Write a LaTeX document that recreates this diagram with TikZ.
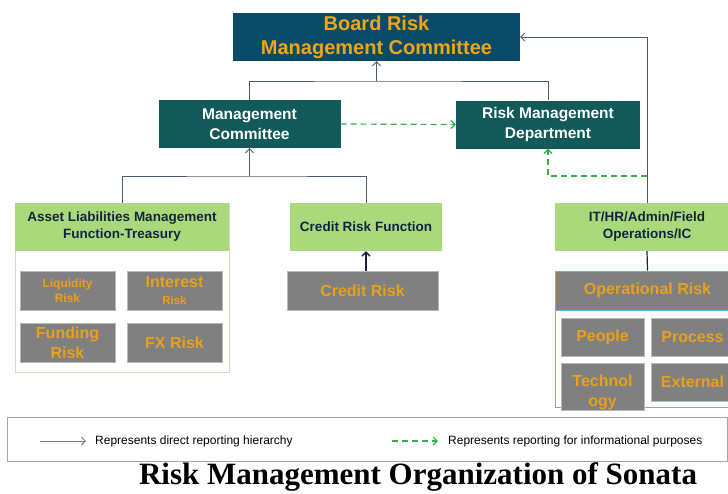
\documentclass[tikz,border=0pt]{standalone}
\usepackage{fontspec}
\setmainfont{Liberation Serif}
\setsansfont{Liberation Sans}
\usetikzlibrary{arrows.meta, positioning}
\definecolor{boardblue}{RGB}{10,76,104}
\definecolor{mgmtteal}{RGB}{18,90,90}
\definecolor{funcgreen}{RGB}{170,217,123}
\definecolor{riskgray}{RGB}{128,128,128}
\definecolor{riskorange}{RGB}{232,160,28}
\definecolor{titleorange}{RGB}{240,165,20}
\definecolor{navytext}{RGB}{20,36,64}
\definecolor{linkgray}{RGB}{78,92,108}
\definecolor{infogreen}{RGB}{52,178,72}
\definecolor{opblue}{RGB}{90,185,220}
\definecolor{framegreen}{RGB}{205,225,185}
\tikzset{
  boardbox/.style={rectangle, fill=boardblue, text=titleorange, inner sep=0pt,
              minimum width=287pt, minimum height=48pt, align=center,
              font=\sffamily\bfseries\fontsize{20}{24}\selectfont},
  mgmtbox/.style={rectangle, fill=mgmtteal, text=white, inner sep=0pt,
              minimum width=182pt, minimum height=48pt, align=center,
              font=\sffamily\bfseries\fontsize{15.5}{19.5}\selectfont},
  funcbox/.style={rectangle, fill=funcgreen, text=navytext, inner sep=0pt,
              minimum height=48pt, align=center,
              font=\sffamily\bfseries\fontsize{13.5}{17}\selectfont},
  riskbox/.style={rectangle, fill=riskgray, draw=gray!55, text=riskorange, inner sep=0pt,
              minimum width=95pt, minimum height=39pt, align=center,
              font=\sffamily\bfseries\fontsize{16}{20}\selectfont},
  link/.style={draw=linkgray, line width=0.9pt},
  arrow/.style={link, -{Straight Barb[length=4pt, width=8pt]}},
  info/.style={draw=infogreen, line width=1.2pt, dash pattern=on 6pt off 4pt,
              -{Straight Barb[length=4pt, width=8pt]}},
  legendtext/.style={anchor=west, inner sep=0pt, font=\sffamily\fontsize{12}{14}\selectfont},
}

\begin{document}
\begin{tikzpicture}[x=1pt, y=-1pt]
  \useasboundingbox (0,0) rectangle (728,493);

  % top of the hierarchy
  \node[boardbox] (board) at (376.5,37) {Board Risk\\Management Committee};
  \node[mgmtbox] (mc) at (249.5,124) {Management\\Committee};
  \node[mgmtbox, minimum width=184pt] (rmd) at (548,124.5) {Risk Management\\Department};

  % asset liabilities block
  \node[rectangle, draw=framegreen, fill=white, minimum width=214pt, minimum height=169pt] (almframe) at (122,287.5) {};
  \node[funcbox, minimum width=214pt] (alm) at (122,227) {Asset Liabilities Management\\Function-Treasury};
  \node[riskbox, font=\sffamily\bfseries\fontsize{12}{15}\selectfont] (liq) at (67.5,290.5) {Liquidity\\Risk};
  \node[riskbox] (intr) at (174.5,290.5) {Interest\\[-3pt]{\fontsize{11.5}{13}\selectfont Risk}};
  \node[riskbox] (fund) at (67.5,342.5) {Funding\\Risk};
  \node[riskbox] (fx) at (174.5,342.5) {FX Risk};

  % credit block
  \node[funcbox, minimum width=152pt] (crf) at (366,227) {Credit Risk Function};
  \node[riskbox, minimum width=151pt] (cr) at (362.5,290.5) {Credit Risk};

  % operational block
  \node[funcbox, minimum width=184pt] (ithr) at (647,227) {IT/HR/Admin/Field\\Operations/IC};
  \node[rectangle, draw=opblue, fill=white, line width=0.9pt, minimum width=185pt, minimum height=136pt] (opframe) at (647.5,339) {};
  \node[riskbox, draw=opblue, line width=0.9pt, minimum width=185pt] (oprisk) at (647.5,290.5) {Operational Risk};
  \node[riskbox, minimum width=83pt, minimum height=38pt] (people) at (602.5,337) {People};
  \node[riskbox, minimum width=83pt, minimum height=38pt] (process) at (692.5,337) {Process};
  \node[riskbox, minimum width=83pt, minimum height=47pt,
        label={[text=riskorange, align=center, font=\sffamily\bfseries\fontsize{16}{20}\selectfont, yshift=-6pt]center:Technol\\ogy}]
        (tech) at (602.5,386.5) {};
  \node[riskbox, minimum width=83pt, minimum height=38pt] (external) at (692.5,382) {External};

  % reporting lines
  \coordinate (tophub) at (376.5,81);
  \coordinate (almhub) at (249.5,176);
  \coordinate (itbranch) at (647,176);
  \draw[link] (mc.north) |- (tophub) -| (rmd.north);
  \draw[arrow] (tophub) -- (board.south);
  \draw[arrow] (ithr.north) |- (board.east);
  \draw[link] (alm.north) |- (almhub) -| (crf.north);
  \draw[arrow] (almhub) -- (mc.south);
  \draw[link, draw=navytext, line width=1.4pt, -{Straight Barb[length=4pt, width=8pt]}] (crf.south |- cr.north) -- (crf.south);
  \draw[link, draw=navytext, line width=1.2pt] (ithr.south) -- (oprisk.north);
  \draw[info] (mc.east) -- (rmd.west);
  \draw[info] (itbranch) -| (rmd.south);

  % legend
  \node[rectangle, draw=gray!70, line width=1pt, minimum width=720pt, minimum height=44pt] (legend) at (367,439) {};
  \coordinate (solidA) at (40,441);
  \coordinate (solidB) at (86,441);
  \coordinate (dashA) at (392,441);
  \coordinate (dashB) at (438,441);
  \draw[arrow, draw=gray] (solidA) -- (solidB);
  \draw[info] (dashA) -- (dashB);
  \node[legendtext] (solidtxt) at (95,441) {Represents direct reporting hierarchy};
  \node[legendtext] (dashtxt) at (448,441) {Represents reporting for informational purposes};

  \node[font=\bfseries\fontsize{31}{34}\selectfont, inner sep=0pt] (title) at (418,477) {Risk Management Organization of Sonata};
\end{tikzpicture}
\end{document}
